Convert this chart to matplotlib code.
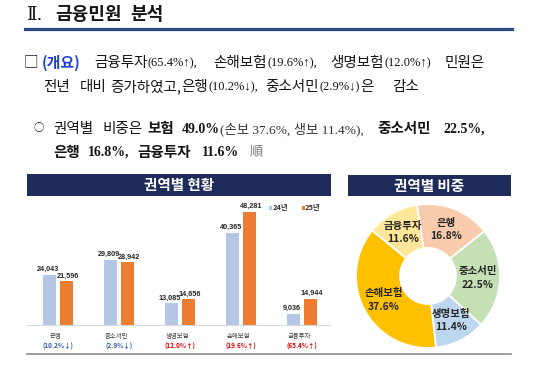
import numpy as np
import matplotlib
matplotlib.use("Agg")
import matplotlib.pyplot as plt
from matplotlib.patches import Rectangle
from matplotlib.lines import Line2D
from matplotlib import font_manager

# ---------------- data ----------------
categories = ['은행', '중소서민', '생명보험', '손해보험', '금융투자']
v24 = [24043, 29809, 13085, 40365, 9036]
v25 = [21596, 28942, 14656, 48281, 14944]
changes = ['10.2%↓', '2.9%↓', '12.0%↑', '19.6%↑', '65.4%↑']
series_names = ['24년', '25년']
shares = [16.8, 22.5, 11.4, 37.6, 11.6]

title_num = 'Ⅱ.'
title_words = ['금융민원', '분석']
panel_titles = ['권역별 현황', '권역별 비중']

# ---------------- setup ----------------
W, H = 550, 368
fig = plt.figure(figsize=(W / 100, H / 100), dpi=100)
fig.patch.set_facecolor('white')
renderer = fig.canvas.get_renderer()

names = {f.name for f in font_manager.fontManager.ttflist}
KR = 'Noto Sans CJK KR'
SER = 'Liberation Serif' if 'Liberation Serif' in names else 'DejaVu Serif'
NARROW = 'Liberation Sans Narrow' if 'Liberation Sans Narrow' in names else 'Liberation Sans'

TXT = '#151515'
BLUE_T = '#1F3FD0'
NAVY = '#1F2B5B'
C24 = '#B4C7E7'
C25 = '#ED7D31'
PIE_COLORS = ['#F8CBAD', '#C5E0B4', '#BDD7EE', '#FFC000', '#FFE699']
KS = 10.5  # body Hangul size


def fx(x):
    return x / W


def fy(y):
    return 1 - y / H


_last = {'x1': 0}


def seg(x, y, s, size=KS, weight='normal', color=TXT, fam=None, ha='left', gap=0.5):
    """x=None -> attach right after the previous segment."""
    if fam is None:
        fam = [KR, 'DejaVu Sans']
    if x is None:
        x = _last['x1'] + gap
    t = fig.text(fx(x), fy(y), s, fontsize=size, fontweight=weight, color=color,
                 family=fam, ha=ha, va='center')
    bb = t.get_window_extent(renderer)
    _last['x1'] = bb.x1 * W / (fig.get_figwidth() * fig.dpi)
    return t


SERF = [SER, KR, 'DejaVu Serif']

# ---------------- title ----------------
seg(26, 15.5, title_num, 13, fam=['DejaVu Serif', KR])
seg(55, 15, title_words[0], 13, 'bold')
seg(130, 15, title_words[1], 13, 'bold')
fig.add_artist(Line2D([fx(25), fx(512)], [fy(28.8), fy(28.8)], lw=2.3,
                      color='#2C4A87', transform=fig.transFigure))

# ---------------- paragraph lines ----------------
y1 = 62.5
seg(24, y1, '□', 10.5)
seg(42, y1, '(개요)', 10.8, 'bold', BLUE_T)
seg(94, y1, '금융투자')
seg(None, y1 + 0.5, '(65.4%↑),', 9, fam=SERF)
seg(213, y1, '손해보험')
seg(None, y1 + 0.5, '(19.6%↑),', 9, fam=SERF)
seg(330, y1, '생명보험')
seg(None, y1 + 0.5, '(12.0%↑)', 9, fam=SERF)
seg(445, y1, '민원은')

y2 = 86.5
seg(43, y2, '전년')
seg(80, y2, '대비')
seg(110, y2, '증가하였고,')
seg(181, y2, '은행')
seg(None, y2 + 0.5, '(10.2%↓),', 9, fam=SERF)
seg(265, y2, '중소서민')
seg(None, y2 + 0.5, '(2.9%↓)', 9, fam=SERF)
seg(None, y2, '은')
seg(392, y2, '감소')

y3 = 128.5
seg(34, y3, '○', 7.5)
seg(53, y3, '권역별')
seg(102, y3, '비중은')
seg(147, y3, '보험', weight='bold')
seg(182, y3 + 0.5, '49.0%', 10, 'bold', fam=SERF)
seg(None, y3 + 0.5, '(손보 37.6%, 생보 11.4%),', 9.6, color='#333333', fam=SERF)
seg(377, y3, '중소서민', weight='bold')
seg(443, y3 + 0.5, '22.5%,', 10, 'bold', fam=SERF)

y4 = 152
seg(53, y4, '은행', weight='bold')
seg(88, y4 + 0.5, '16.8%,', 10, 'bold', fam=SERF)
seg(137, y4, '금융투자', weight='bold')
seg(202, y4 + 0.5, '11.6%', 10, 'bold', fam=SERF)
seg(250, y4, '順', 9.5, color='#777777')

# ---------------- panel headers ----------------
fig.add_artist(Rectangle((fx(27), fy(196)), 304 / W, 22 / H, transform=fig.transFigure,
                         facecolor=NAVY, edgecolor='none'))
fig.add_artist(Rectangle((fx(348), fy(196)), 163 / W, 21 / H, transform=fig.transFigure,
                         facecolor=NAVY, edgecolor='none'))
seg(179, 185, panel_titles[0], 10.5, 'bold', 'white', ha='center')
seg(429, 185.5, panel_titles[1], 10.5, 'bold', 'white', ha='center')

# bottom rule
fig.add_artist(Line2D([fx(27), fx(511)], [fy(354), fy(354)], lw=1.2,
                      color='#8C8C8C', transform=fig.transFigure))

# ---------------- bar chart ----------------
ax1 = fig.add_axes([fx(27), fy(325), 303 / W, 125 / H])
x = np.arange(len(categories))
bw = 0.221
off = 0.139
b1 = ax1.bar(x - off, v24, bw, color=C24, label=series_names[0])
b2 = ax1.bar(x + off, v25, bw, color=C25, label=series_names[1])
ax1.set_xlim(-0.508, 4.459)
ax1.set_ylim(4804, 52898)
for sp in ['top', 'right', 'left']:
    ax1.spines[sp].set_visible(False)
ax1.spines['bottom'].set_color('#D9D9D9')
ax1.spines['bottom'].set_linewidth(0.8)
ax1.set_xticks([])
ax1.set_yticks([])
ax1.patch.set_alpha(0)

for k, (bars, vals) in enumerate(((b1, v24), (b2, v25))):
    for r, v in zip(bars, vals):
        ax1.annotate(f'{v:,}', xy=(r.get_x() + r.get_width() / 2, v),
                     xytext=(-1.0 if k == 0 else 1.0, 1.2), textcoords='offset points',
                     ha='center', va='bottom',
                     fontsize=5.2, fontweight='bold', color='#262626',
                     family=[NARROW, 'DejaVu Sans'])

for i, (c, ch) in enumerate(zip(categories, changes)):
    ax1.annotate(c, xy=(i, 0), xycoords=('data', 'axes fraction'), xytext=(-2, -8),
                 textcoords='offset points', ha='center', va='center', fontsize=4.6,
                 color='#404040', family=[KR, 'DejaVu Sans'])
    col = '#E00000' if '↑' in ch else '#2E5AAC'
    ax1.annotate(f'({ch})', xy=(i, 0), xycoords=('data', 'axes fraction'), xytext=(0, -15.2),
                 textcoords='offset points', ha='center', va='center', fontsize=4.6,
                 fontweight='bold', color=col, family=[KR, 'DejaVu Sans'])

# legend (manual)
for xm, colr, nm in ((269, C24, series_names[0]), (301.5, C25, series_names[1])):
    fig.add_artist(Rectangle((fx(xm), fy(210)), 3 / W, 4 / H, transform=fig.transFigure,
                             facecolor=colr, edgecolor='none'))
    seg(xm + 3.5, 208, nm, 5.3, 'bold', '#333333')

# ---------------- donut ----------------
cx, cy, R, r_in = 428, 276, 72, 28
ax2 = fig.add_axes([fx(cx - R), fy(cy + R), 2 * R / W, 2 * R / H])
wedges, _ = ax2.pie(shares, colors=PIE_COLORS, startangle=99, counterclock=False,
                    radius=1, wedgeprops=dict(width=1 - r_in / R, edgecolor='white', linewidth=1.3))
ax2.set_xlim(-1, 1)
ax2.set_ylim(-1, 1)
ax2.set_aspect('equal')
rl = (1 + r_in / R) / 2
for w, c, s in zip(wedges, categories, shares):
    a = np.deg2rad((w.theta1 + w.theta2) / 2)
    ax2.text(rl * np.cos(a), rl * np.sin(a), f'{c}\n{s}%', ha='center', va='center',
             fontsize=7.5, fontweight='bold', color='#262626', linespacing=1.45,
             family=[KR, 'DejaVu Sans'])

fig.savefig('out.png', dpi=100, facecolor='white')
